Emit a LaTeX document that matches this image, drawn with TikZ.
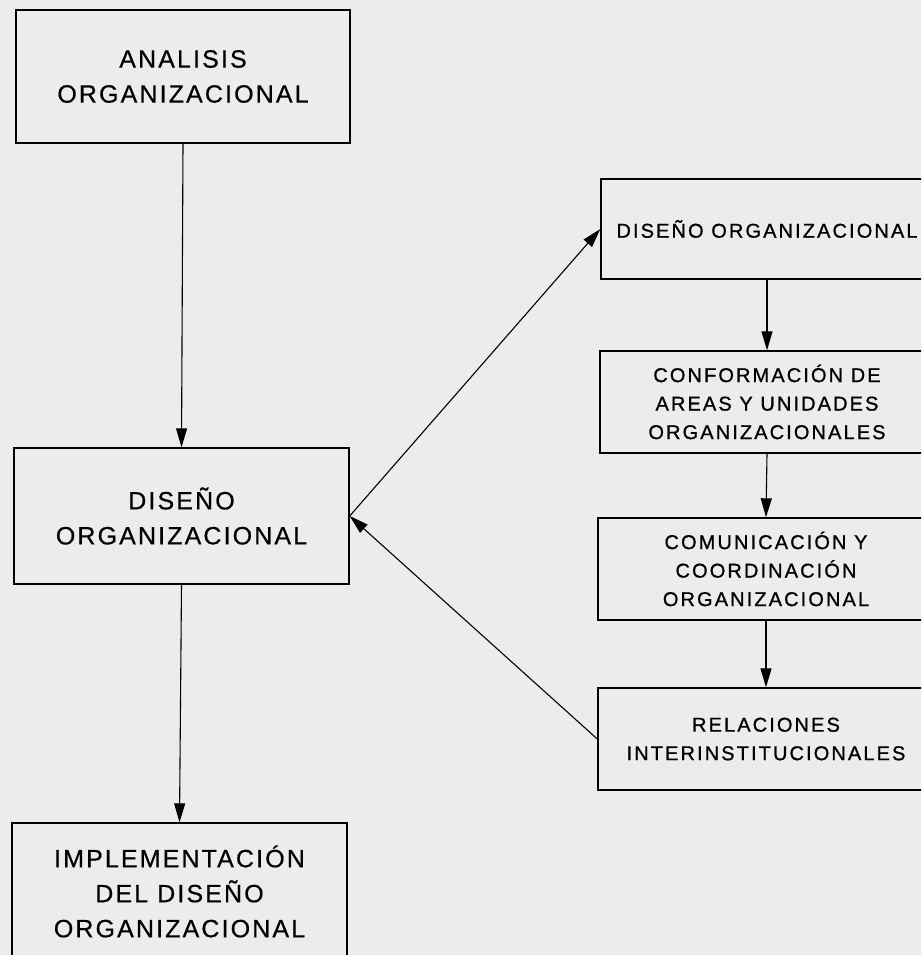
\documentclass[tikz,border=0pt]{standalone}
\usepackage{fontspec}
\setmainfont{Liberation Sans}
\newfontfamily\bigf[LetterSpace=8.5,FakeBold=0.5]{Liberation Sans}
\newfontfamily\smallf[LetterSpace=10.5,FakeBold=0.9]{Liberation Sans}
\usetikzlibrary{arrows.meta}
\definecolor{bg}{RGB}{236,236,236}
\begin{document}
\begin{tikzpicture}[x=1pt,y=-1pt,
  bigbox/.style={draw, line width=1.4pt, minimum width=334pt, inner sep=0pt, align=center, font=\bigf\fontsize{25}{35}\selectfont},
  rbox/.style={draw, line width=1.4pt, minimum width=334pt, minimum height=101pt, inner sep=0pt, align=center, font=\smallf\fontsize{20}{28.5}\selectfont},
  arr/.style={-{Triangle[length=19pt,width=11pt]}, line width=1.1pt}]
\useasboundingbox (0,0) rectangle (921,955);
\fill[bg] (0,0) rectangle (921,955);
\clip (0,0) rectangle (921,955);
\node[bigbox, minimum height=133pt] (A) at (183,76.5) {ANALISIS\\ORGANIZACIONAL};
\node[bigbox, minimum height=136pt, minimum width=335pt] (L) at (181.5,516) {DISEÑO\\ORGANIZACIONAL};
\node[bigbox, minimum height=137pt, minimum width=335pt] (B) at (179.5,891.5) {IMPLEMENTACIÓN\\DEL DISEÑO\\ORGANIZACIONAL};
\node[rbox, minimum width=332pt, minimum height=100pt] (R1) at (767,229) {DISEÑO ORGANIZACIONAL};
\node[rbox, minimum width=334pt, minimum height=102pt] (R2) at (767,402) {CONFORMACIÓN DE\\AREAS Y UNIDADES\\ORGANIZACIONALES};
\node[rbox, minimum width=336pt, minimum height=102pt] (R3) at (766,569) {COMUNICACIÓN Y\\COORDINACIÓN\\ORGANIZACIONAL};
\node[rbox, minimum width=336pt, minimum height=102pt] (R4) at (766,739) {RELACIONES\\INTERINSTITUCIONALES};
\draw[arr] (A.south) -- (L.north);
\draw[arr] (L.south) -- (B.north);
\draw[arr] (L.east) -- (R1.west);
\draw[arr] (R4.west) -- (L.east);
\draw[arr] (R1.south) -- (R2.north);
\draw[arr] (R2.south) -- (R3.north);
\draw[arr] (R3.south) -- (R4.north);
\end{tikzpicture}
\end{document}
